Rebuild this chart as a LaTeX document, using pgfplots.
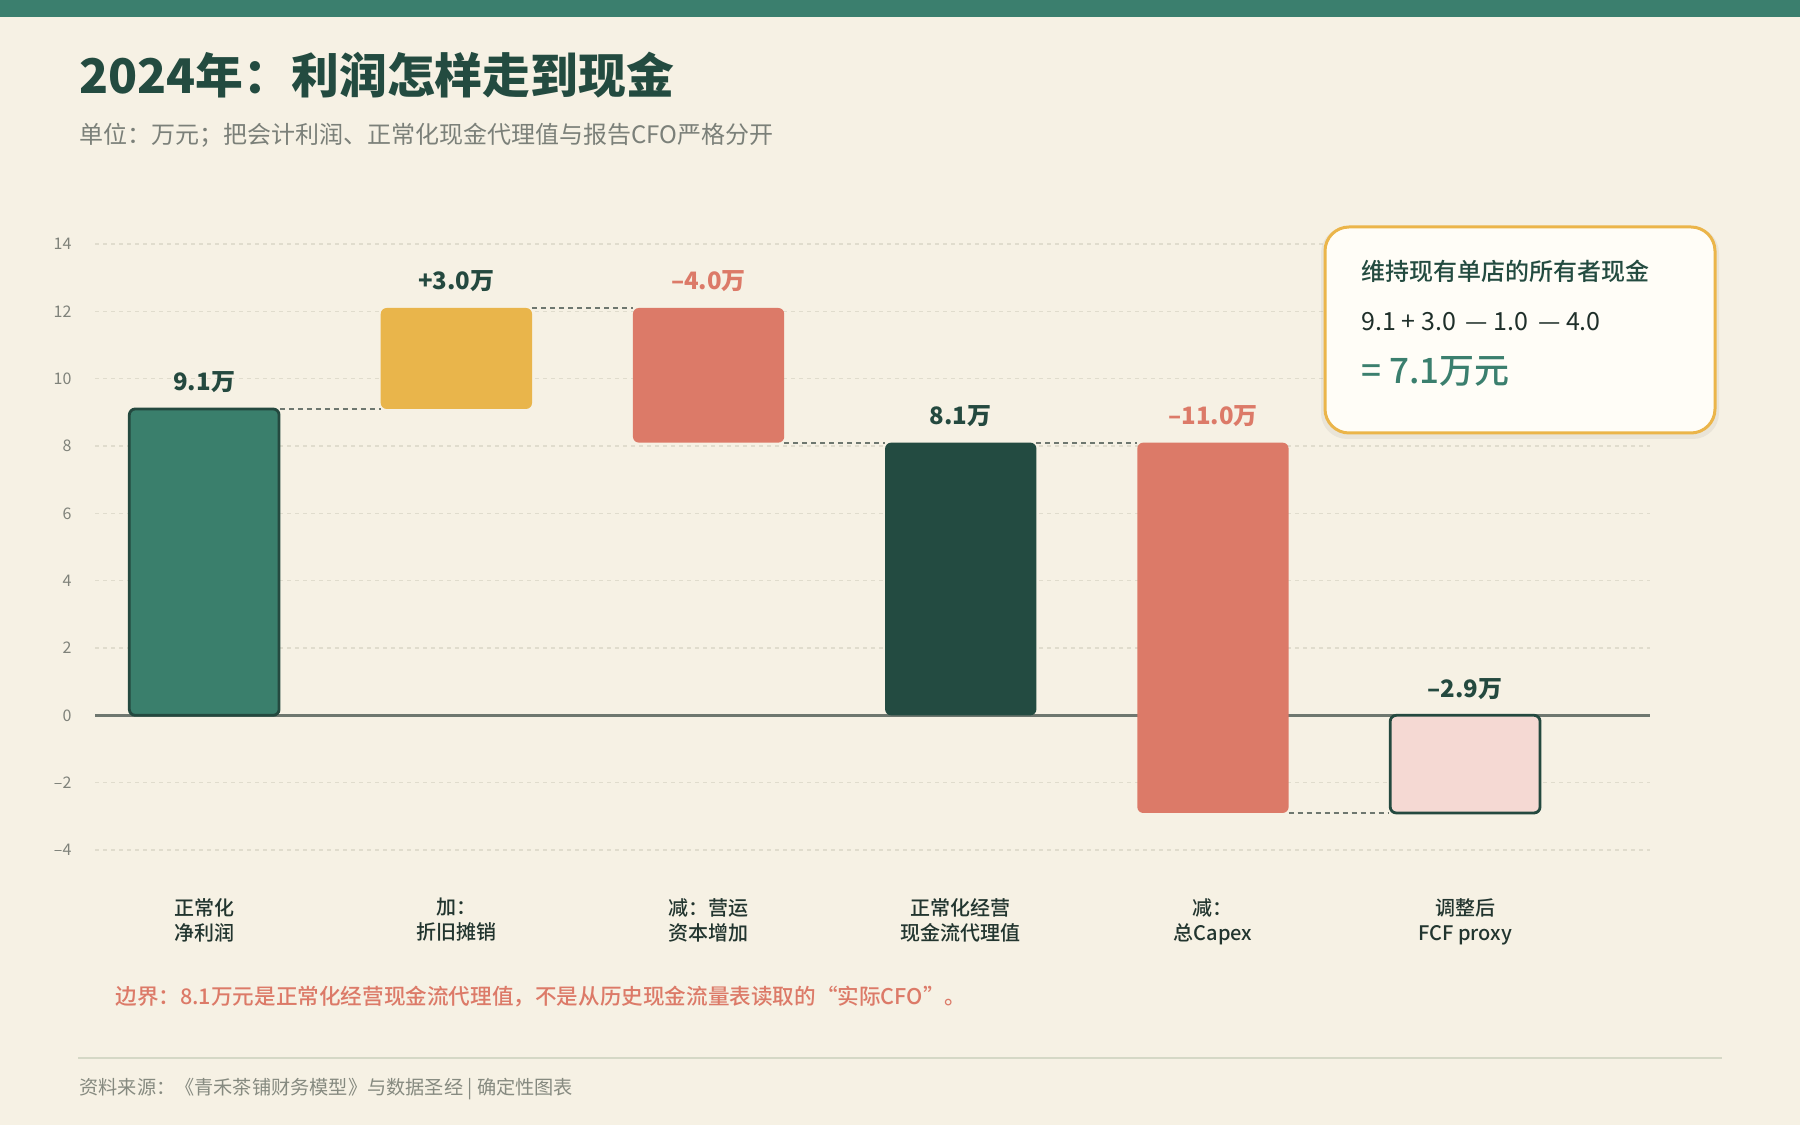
\documentclass[border=0pt]{standalone}
\usepackage{fontspec}
\setmainfont{Noto Sans CJK SC}
\newfontfamily\med{Noto Sans CJK SC Medium}
\usepackage{pgfplots}
\pgfplotsset{compat=1.18}

\definecolor{bgc}{HTML}{F6F1E4}
\definecolor{topc}{HTML}{3B7F6E}
\definecolor{titlec}{HTML}{234B40}
\definecolor{subc}{HTML}{7B8079}
\definecolor{gridc}{HTML}{E0DCCD}
\definecolor{tickc}{HTML}{7F827A}
\definecolor{barg}{HTML}{3A7F6C}
\definecolor{bord}{HTML}{24493F}
\definecolor{catc}{HTML}{22352F}
\definecolor{bary}{HTML}{E9B54B}
\definecolor{bars}{HTML}{DC7A68}
\definecolor{bard}{HTML}{234B41}
\definecolor{barp}{HTML}{F5D9D3}
\definecolor{zeroc}{HTML}{6E776F}
\definecolor{sepc}{HTML}{D5D8C6}
\definecolor{footc}{HTML}{868A80}
\definecolor{boxf}{HTML}{FFFDF7}
\definecolor{boxb}{HTML}{EBB54A}
\definecolor{formc}{HTML}{1F2F2A}

\begin{document}
\begin{tikzpicture}
% canvas 1800x1125 px at 0.5pt per px
\fill[bgc] (0,0) rectangle (900pt,562.5pt);
\fill[topc] (0,554pt) rectangle (900pt,562.5pt);

\node[anchor=west, inner sep=0pt, text=titlec, font=\bfseries\fontsize{23.9}{28}\selectfont]
  at (39.5pt,525pt) {2024年：利润怎样走到现金};
\node[anchor=west, inner sep=0pt, text=subc, font=\fontsize{12}{14}\selectfont]
  at (39.5pt,495pt) {单位：万元；把会计利润、正常化现金代理值与报告CFO严格分开};

\begin{axis}[
    at={(47.5pt,137.5pt)}, anchor=south west,
    scale only axis,
    width=777.5pt, height=303pt,
    xmin=-0.433, xmax=5.733,
    ymin=-4, ymax=14,
    clip=false,
    no markers,
    axis line style={draw=none},
    major tick length=0pt,
    ytick={-4,-2,0,2,4,6,8,10,12,14},
    yticklabels={–4,–2,0,2,4,6,8,10,12,14},
    yticklabel style={anchor=east, inner sep=0pt, xshift=-11.6pt,
        text=tickc, font=\fontsize{8}{10}\selectfont},
    xtick={0,1,2,3,4,5},
    xticklabels={正常化\\净利润, 加：\\折旧摊销, 减：营运\\资本增加,
        正常化经营\\现金流代理值, 减：\\总Capex, 调整后\\FCF proxy},
    xticklabel style={anchor=north, align=center, inner sep=0pt, yshift=-24pt,
        text=catc, font=\med\fontsize{10}{12.5}\selectfont},
    ymajorgrids,
    grid style={gridc, line width=0.6pt, dash pattern=on 2pt off 2pt},
]
% zero line
\addplot[zeroc, line width=1.2pt] coordinates {(-0.433,0) (5.733,0)};

% connectors
\addplot[zeroc, line width=0.9pt, dash pattern=on 2.5pt off 2pt] coordinates {(0.3,9.1) (0.7,9.1)};
\addplot[zeroc, line width=0.9pt, dash pattern=on 2.5pt off 2pt] coordinates {(1.3,12.1) (1.7,12.1)};
\addplot[zeroc, line width=0.9pt, dash pattern=on 2.5pt off 2pt] coordinates {(2.3,8.1) (2.7,8.1)};
\addplot[zeroc, line width=0.9pt, dash pattern=on 2.5pt off 2pt] coordinates {(3.3,8.1) (3.7,8.1)};
\addplot[zeroc, line width=0.9pt, dash pattern=on 2.5pt off 2pt] coordinates {(4.3,-2.9) (4.7,-2.9)};

% bars
\addplot[fill=barg, draw=bord, line width=1.4pt, rounded corners=3pt]
  coordinates {(-0.297,0) (-0.297,9.1) (0.297,9.1) (0.297,0)} -- cycle;
\addplot[fill=bary, draw=none, rounded corners=3pt]
  coordinates {(0.7,9.1) (0.7,12.1) (1.3,12.1) (1.3,9.1)} -- cycle;
\addplot[fill=bars, draw=none, rounded corners=3pt]
  coordinates {(1.7,8.1) (1.7,12.1) (2.3,12.1) (2.3,8.1)} -- cycle;
\addplot[fill=bard, draw=none, rounded corners=3pt]
  coordinates {(2.7,0) (2.7,8.1) (3.3,8.1) (3.3,0)} -- cycle;
\addplot[fill=bars, draw=none, rounded corners=3pt]
  coordinates {(3.7,-2.9) (3.7,8.1) (4.3,8.1) (4.3,-2.9)} -- cycle;
\addplot[fill=barp, draw=bord, line width=1.4pt, rounded corners=3pt]
  coordinates {(4.703,-2.9) (4.703,0) (5.297,0) (5.297,-2.9)} -- cycle;

% value labels
\begin{scope}[every node/.style={anchor=base, inner sep=0pt, yshift=9pt,
    font=\bfseries\fontsize{12}{14}\selectfont}]
\node[text=bord] at (axis cs:0,9.1) {9.1万};
\node[text=bord] at (axis cs:1,12.1) {+3.0万};
\node[text=bars] at (axis cs:2,12.1) {–4.0万};
\node[text=bord] at (axis cs:3,8.1) {8.1万};
\node[text=bars] at (axis cs:4,8.1) {–11.0万};
\node[text=bord] at (axis cs:5,0) {–2.9万};
\end{scope}
\end{axis}

% callout box
\fill[black, opacity=0.05, rounded corners=13pt] (660.5pt,343pt) rectangle (859.5pt,449pt);
\filldraw[fill=boxf, draw=boxb, line width=1.5pt, rounded corners=12pt]
  (662.5pt,346pt) rectangle (857.5pt,449pt);
\node[anchor=west, inner sep=0pt, text=titlec, font=\med\fontsize{12}{14}\selectfont]
  at (680.5pt,426.8pt) {维持现有单店的所有者现金};
\node[anchor=west, inner sep=0pt, text=formc, font=\fontsize{12.5}{14}\selectfont]
  at (680.5pt,401.8pt) {9.1 + 3.0 \,— 1.0 \,— 4.0};
\node[anchor=west, inner sep=0pt, text=topc, font=\med\fontsize{17.5}{20}\selectfont]
  at (680.5pt,376.8pt) {= 7.1万元};

% note and footer
\node[anchor=west, inner sep=0pt, text=bars, font=\med\fontsize{10.8}{13}\selectfont]
  at (57.5pt,64.2pt) {边界：8.1万元是正常化经营现金流代理值，不是从历史现金流量表读取的“实际CFO”。};
\draw[sepc, line width=1pt] (39pt,33.3pt) -- (861pt,33.3pt);
\node[anchor=west, inner sep=0pt, text=footc, font=\fontsize{9.6}{12}\selectfont]
  at (39.5pt,17.8pt) {资料来源：《青禾茶铺财务模型》与数据圣经 | 确定性图表};

\pgfresetboundingbox
\path (0,0) rectangle (900pt,562.5pt);
\end{tikzpicture}
\end{document}
